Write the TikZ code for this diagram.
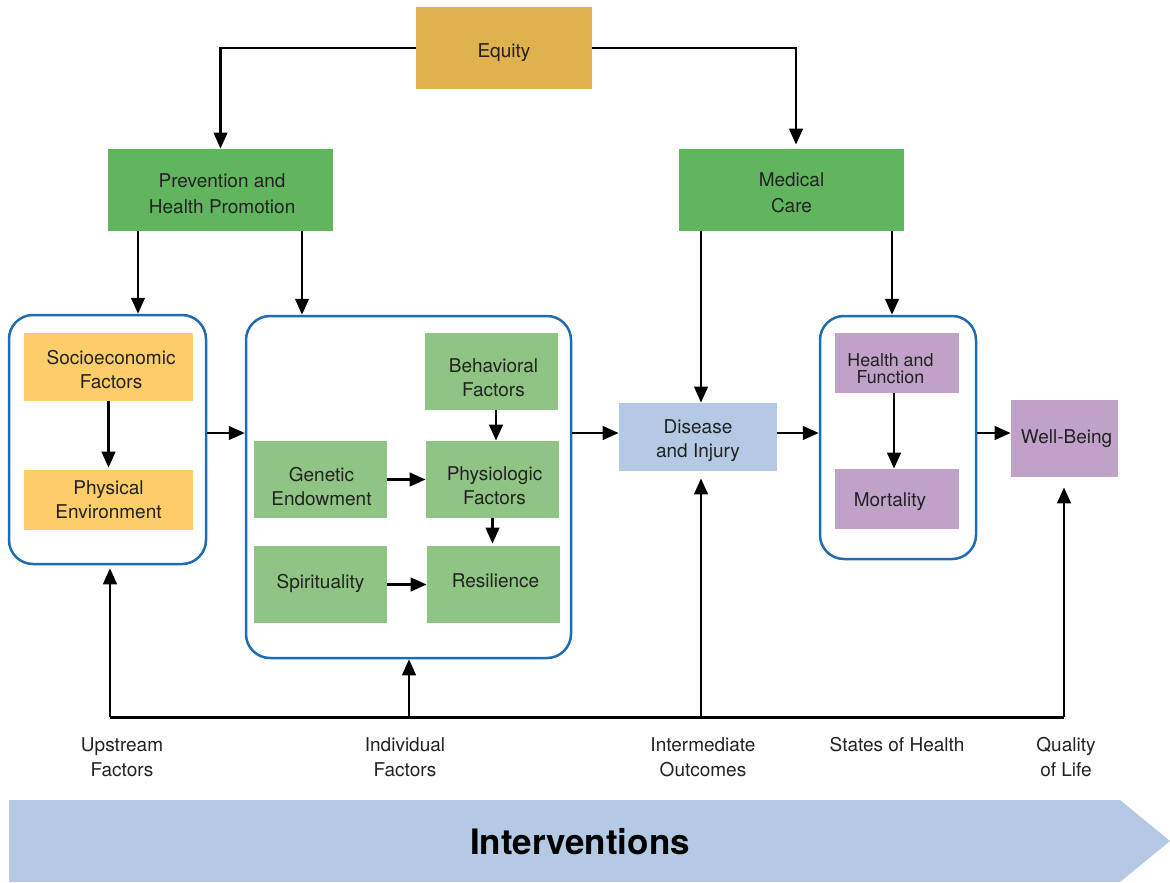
\documentclass[tikz,border=0pt]{standalone}
\usepackage{fontspec}
\setmainfont{TeX Gyre Heros}
\usetikzlibrary{arrows.meta,calc}
\definecolor{eqc}{HTML}{E0B24E}
\definecolor{dgreen}{HTML}{62B55F}
\definecolor{lgreen}{HTML}{8FC485}
\definecolor{yel}{HTML}{FDCD6A}
\definecolor{lblue}{HTML}{B3C9E4}
\definecolor{purp}{HTML}{C0A1C8}
\definecolor{cblue}{HTML}{1F6DB0}
\definecolor{txt}{HTML}{222222}
\begin{document}
\begin{tikzpicture}[x=0.5pt,y=-0.5pt,
  box/.style={draw=none, inner sep=0pt},
  tl/.style={inner sep=0pt, align=center, text=txt, font=\fontsize{9.5}{12}\selectfont},
  cont/.style={draw=cblue, line width=1.25pt, rounded corners=12pt, inner sep=0pt},
  arr/.style={-{Triangle[width=6.8pt,length=8pt]}, line width=1.25pt},
  lbl/.style={inner sep=0pt, align=center, text=txt, font=\fontsize{9.5}{12.5}\selectfont}]
\useasboundingbox (0,0) rectangle (1170,882);

% containers
\node[cont, minimum width=98.5pt, minimum height=124.5pt] (leftbox) at (107.5,439.5) {};
\node[cont, minimum width=162.5pt, minimum height=171pt] (midbox) at (408.5,487) {};
\node[cont, minimum width=78pt, minimum height=121.5pt] (rightbox) at (898,437.5) {};

% top boxes
\node[box, fill=eqc, minimum width=88pt, minimum height=41pt,
  label={[tl, yshift=-2.5pt]center:{Equity}}] (equity) at (504,48) {};
\node[box, fill=dgreen, minimum width=112.5pt, minimum height=41pt,
  label={[tl, font=\fontsize{9.5}{13}\selectfont, yshift=-2pt, xshift=0.8pt]center:{Prevention and\\Health Promotion}}] (prev) at (220.5,190) {};
\node[box, fill=dgreen, minimum width=112.5pt, minimum height=41pt,
  label={[tl, font=\fontsize{9.5}{13}\selectfont, yshift=-1.5pt]center:{Medical\\Care}}] (med) at (791.5,190) {};

% upstream
\node[box, fill=yel, minimum width=84.5pt, minimum height=34pt,
  label={[tl, yshift=-1.5pt, xshift=1.3pt]center:{Socioeconomic\\Factors}}] (soc) at (108.5,367) {};
\node[box, fill=yel, minimum width=84.5pt, minimum height=30pt,
  label={[tl]center:{Physical\\Environment}}] (phys) at (108.5,500) {};

% individual
\node[box, fill=lgreen, minimum width=66.5pt, minimum height=38.5pt,
  label={[tl, yshift=-3pt, xshift=1pt]center:{Behavioral\\Factors}}] (beh) at (491.5,371.5) {};
\node[box, fill=lgreen, minimum width=66.5pt, minimum height=38.5pt,
  label={[tl, yshift=-3.5pt, xshift=0.5pt]center:{Genetic\\Endowment}}] (gen) at (320.5,479.5) {};
\node[box, fill=lgreen, minimum width=66.5pt, minimum height=38.5pt,
  label={[tl, yshift=-3pt, xshift=1pt]center:{Physiologic\\Factors}}] (physio) at (492.5,479.5) {};
\node[box, fill=lgreen, minimum width=66.5pt, minimum height=38.5pt,
  label={[tl, yshift=0.5pt]center:{Spirituality}}] (spir) at (320.5,584.5) {};
\node[box, fill=lgreen, minimum width=66.5pt, minimum height=38.5pt,
  label={[tl, yshift=2pt, xshift=1pt]center:{Resilience}}] (resil) at (493.5,584.5) {};

% outcomes
\node[box, fill=lblue, minimum width=79pt, minimum height=34pt,
  label={[tl, yshift=-2pt]center:{Disease\\and Injury}}] (dis) at (698,437) {};
\node[box, fill=purp, minimum width=62pt, minimum height=30pt,
  label={[tl, font=\fontsize{8.9}{8.6}\selectfont, yshift=-3pt, xshift=-3.3pt]center:{Health and\\Function}}] (hf) at (897,363) {};
\node[box, fill=purp, minimum width=62pt, minimum height=30pt,
  label={[tl, yshift=-1.5pt, xshift=-3.5pt]center:{Mortality}}] (mort) at (897,499) {};
\node[box, fill=purp, minimum width=53.5pt, minimum height=38.5pt,
  label={[tl, xshift=1pt]center:{Well-Being}}] (wb) at (1064.5,438.5) {};

% helper coordinates
\coordinate (x138) at (138,0);
\coordinate (x302) at (302,0);
\coordinate (x701) at (701,0);
\coordinate (x892) at (892,0);
\coordinate (x894) at (894,0);
\coordinate (x496) at (496,0);
\coordinate (y433) at (0,433);

% equity arrows
\draw[arr] (equity.west) -| (prev.north);
\draw[arr, shorten >=2pt] (equity.east) -| ($(med.north)+(4.5,0)$);

% prevention / medical arrows
\draw[arr] (prev.south -| x138) -- (leftbox.north -| x138);
\draw[arr] (prev.south -| x302) -- (midbox.north -| x302);
\draw[arr] (med.south -| x701) -- (dis.north -| x701);
\draw[arr] (med.south -| x892) -- (rightbox.north -| x892);

% inner arrows
\draw[arr, shorten >=1pt] (soc.south) -- (phys.north);
\draw[arr] (beh.south -| x496) -- (physio.north -| x496);
\draw[arr] (gen.east) -- (physio.west);
\draw[arr, shorten >=1pt] (physio.south) -- (resil.north -| physio.south);
\draw[arr] (spir.east) -- (resil.west);
\draw[arr] (hf.south -| x894) -- (mort.north -| x894);

% horizontal chain
\draw[arr] (leftbox.east |- y433) -- (midbox.west |- y433);
\draw[arr] (midbox.east |- y433) -- (dis.west |- y433);
\draw[arr] (dis.east |- y433) -- (rightbox.west |- y433);
\draw[arr] (rightbox.east |- y433) -- (wb.west |- y433);

% feedback
\coordinate (fbL) at (110,717);
\coordinate (fb2) at (409,717);
\coordinate (fb3) at (701,717);
\coordinate (fbR) at (1064,717);
\draw[line width=1.5pt] (fbL) -- (fbR);
\draw[arr, shorten >=1.5pt] (fbL) -- (fbL |- leftbox.south);
\draw[arr] (fb2) -- (fb2 |- midbox.south);
\draw[arr, shorten >=3.5pt] (fb3) -- (fb3 |- dis.south);
\draw[arr, shorten >=5pt] (fbR) -- (fbR |- wb.south);

% labels
\node[lbl, anchor=north] (l1) at (122,737) {Upstream\\Factors};
\node[lbl, anchor=north] (l2) at (405,737) {Individual\\Factors};
\node[lbl, anchor=north] (l3) at (703,737) {Intermediate\\Outcomes};
\node[lbl, anchor=north] (l4) at (897,737) {States of Health};
\node[lbl, anchor=north] (l5) at (1066,737) {Quality\\of Life};

% banner
\fill[lblue] (9,800) -- (1120,800) -- (1170,841) -- (1120,882) -- (9,882) -- cycle;
\node[inner sep=0pt, text=black, font=\bfseries\fontsize{17.5}{20}\selectfont] (intv) at (580,842) {Interventions};
\end{tikzpicture}
\end{document}
